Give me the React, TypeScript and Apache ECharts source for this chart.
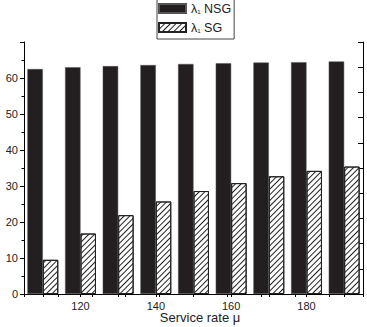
import React, { useEffect, useRef } from "react";
import * as echarts from "echarts";

const categories = ["110", "120", "130", "140", "150", "160", "170", "180", "190"];
const nsgValues = [62.5, 63.0, 63.3, 63.6, 63.9, 64.1, 64.3, 64.4, 64.6];
const sgValues = [9.5, 16.8, 21.9, 25.7, 28.6, 30.8, 32.7, 34.2, 35.4];
const yTicks = [0, 10, 20, 30, 40, 50, 60];
const xAxisTitle = "Service rate μ";

export default function App() {
  const ref = useRef<HTMLDivElement>(null);
  useEffect(() => {
    if (!ref.current) return;
    const chart = echarts.init(ref.current, null, { renderer: "svg" });
    const font = "Liberation Sans, Arial, sans-serif";
    const option: any = {
      animation: false,
      backgroundColor: "#fff",
      textStyle: { fontFamily: font },
      grid: { left: 24, right: 4, top: 42, bottom: 33, containLabel: false },
      legend: {
        orient: "vertical",
        left: 157,
        top: -2,
        padding: [4, 3, 5, 1],
        itemGap: 6,
        itemWidth: 27,
        itemHeight: 9,
        icon: "rect",
        backgroundColor: "#fff",
        borderColor: "#444",
        borderWidth: 1,
        borderRadius: 0,
        data: ["NSG", "SG"],
        formatter: (name: string) => `{l|λ}{s|1}{l| ${name}}`,
        textStyle: {
          fontFamily: font,
          color: "#222",
          rich: {
            l: { fontSize: 12.5, fontFamily: font, color: "#222" },
            s: { fontSize: 6, fontFamily: font, color: "#222", verticalAlign: "bottom", padding: [6, 0, 0, 0] },
          },
        },
      },
      xAxis: [
        {
          type: "category",
          data: categories,
          boundaryGap: true,
          axisLine: { show: true, lineStyle: { color: "#000", width: 1 } },
          axisTick: { show: true, alignWithLabel: true, interval: 0, length: 3, inside: false, lineStyle: { color: "#000" } },
          axisLabel: {
            interval: (i: number) => i % 2 === 1,
            margin: 6,
            fontSize: 11,
            color: "#222",
            fontFamily: font,
          },
          splitLine: { show: false },
        },
        {
          type: "value",
          position: "top",
          min: 0,
          max: 10,
          interval: 1,
          axisLine: { show: true, lineStyle: { color: "#000", width: 1 } },
          axisTick: { show: true, inside: true, length: 3, lineStyle: { color: "#000" } },
          axisLabel: { show: false },
          splitLine: { show: false },
        },
      ],
      yAxis: [
        {
          type: "value",
          min: 0,
          max: 70,
          interval: 10,
          axisLine: { show: true, lineStyle: { color: "#000", width: 1 } },
          axisTick: { show: true, inside: false, length: 4, lineStyle: { color: "#000" } },
          minorTick: { show: true, splitNumber: 2, length: 2.5, lineStyle: { color: "#000" } },
          axisLabel: {
            margin: 6,
            fontSize: 11,
            color: "#222",
            fontFamily: font,
            formatter: (v: number) => (yTicks.indexOf(v) >= 0 ? String(v) : ""),
          },
          splitLine: { show: false },
        },
        {
          type: "value",
          position: "right",
          min: 0,
          max: 10,
          interval: 1,
          axisLine: { show: true, lineStyle: { color: "#000", width: 1 } },
          axisTick: { show: true, inside: true, length: 5, lineStyle: { color: "#000" } },
          axisLabel: { show: false },
          splitLine: { show: false },
        },
      ],
      series: [
        {
          name: "NSG",
          type: "bar",
          data: nsgValues,
          xAxisIndex: 0,
          yAxisIndex: 0,
          barGap: "0%",
          barCategoryGap: "18%",
          itemStyle: { color: "#231f20", borderColor: "#555", borderWidth: 0.5 },
        },
        {
          name: "SG",
          type: "bar",
          data: sgValues,
          xAxisIndex: 0,
          yAxisIndex: 0,
          barGap: "0%",
          barCategoryGap: "18%",
          itemStyle: {
            color: "#fff",
            borderColor: "#222",
            borderWidth: 1,
            decal: {
              symbol: "rect",
              symbolSize: 1,
              dashArrayX: [1, 0],
              dashArrayY: [0.8, 3],
              rotation: -Math.PI / 4,
              color: "#222",
              backgroundColor: "#fff",
            },
          },
        },
      ],
      graphic: [
        {
          type: "text",
          x: 200,
          y: 311,
          style: { text: xAxisTitle, font: `13px ${font}`, fill: "#222", textAlign: "center", textVerticalAlign: "top" },
        },
      ],
    };
    chart.setOption(option);
    return () => chart.dispose();
  }, []);
  return (
    <div
      ref={ref}
      style={{ position: "fixed", left: 0, top: 0, width: 367, height: 327 }}
    />
  );
}
